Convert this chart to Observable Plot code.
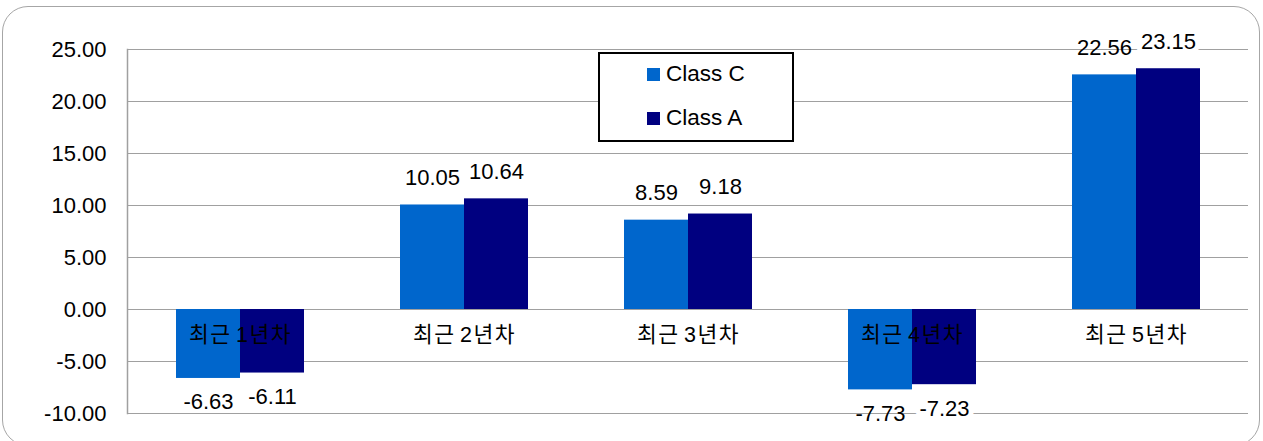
<!DOCTYPE html>
<html><head><meta charset="utf-8">
<script src="https://cdn.jsdelivr.net/npm/d3@7"></script>
<script src="https://cdn.jsdelivr.net/npm/@observablehq/plot@0.6"></script>
<style>
body{margin:0;background:#fff;}
#wrap{position:relative;width:1263px;height:441px;overflow:hidden;font-family:"Liberation Sans",Arial,"Noto Sans CJK KR",sans-serif;}
#frame{position:absolute;left:2px;top:6px;width:1258px;height:440px;border:1.5px solid #a6a6a6;border-radius:26px;box-sizing:border-box;pointer-events:none;}
#chart{position:absolute;left:0;top:0;}
#legend{position:absolute;left:598px;top:52px;width:196px;height:90px;border:2px solid #000;box-sizing:border-box;background:#fff;}
.item{position:absolute;left:47px;height:24px;line-height:24px;font-size:22.5px;color:#000;white-space:nowrap;}
.sw{display:inline-block;width:13px;height:13px;margin-right:6px;vertical-align:0px;}
</style>
</head><body>
<div id="wrap">
  <div id="chart"></div>
  <div id="legend"></div>
  <div id="frame"></div>
</div>
<script>
const categories = ["최근 1년차", "최근 2년차", "최근 3년차", "최근 4년차", "최근 5년차"];
const seriesNames = ["Class C", "Class A"];
const classC = [-6.63, 10.05, 8.59, -7.73, 22.56];
const classA = [-6.11, 10.64, 9.18, -7.23, 23.15];
const yTicks = [-10, -5, 0, 5, 10, 15, 20, 25];
const colors = {"Class C": "#0066CC", "Class A": "#000080"};

const rowsC = categories.map((c, i) => ({cat: c, value: classC[i]}));
const rowsA = categories.map((c, i) => ({cat: c, value: classA[i]}));
const fmt = d => d.value.toFixed(2);
const font = "'Liberation Sans', Arial, 'Noto Sans CJK KR', sans-serif";

const chart = Plot.plot({
  width: 1263, height: 441,
  marginLeft: 127, marginRight: 15, marginTop: 49, marginBottom: 28,
  style: {fontFamily: font, fontSize: "22px", background: "transparent", color: "#000"},
  x: {domain: categories, paddingInner: 0.43, paddingOuter: 0.215, axis: null},
  y: {domain: [-10, 25], ticks: yTicks, tickFormat: d => d.toFixed(2), tickSize: 0, tickPadding: 21, label: null},
  marks: [
    Plot.ruleY(yTicks, {stroke: "#a0a0a0", strokeWidth: 1.2, strokeOpacity: 1}),
    Plot.frame({anchor: "left", stroke: "#a0a0a0", strokeWidth: 1.5}),
    Plot.barY(rowsC, {x: "cat", y: "value", fill: colors["Class C"], insetRight: 64}),
    Plot.barY(rowsA, {x: "cat", y: "value", fill: colors["Class A"], insetLeft: 64}),
    Plot.text(categories, {x: d => d, y: () => 0, dy: 26, fontSize: 21.5, fill: "#000"}),
    Plot.text(rowsC.filter(d => d.value >= 0), {x: "cat", y: "value", text: fmt, dx: -32, dy: -27, fontSize: 22, fill: "#000"}),
    Plot.text(rowsC.filter(d => d.value < 0), {x: "cat", y: "value", text: fmt, dx: -32, dy: 24, fontSize: 22, fill: "#000"}),
    Plot.text(rowsA.filter(d => d.value >= 0), {x: "cat", y: "value", text: fmt, dx: 32, dy: -27, fontSize: 22, fill: "#000", stroke: "#fff", strokeWidth: 10}),
    Plot.text(rowsA.filter(d => d.value < 0), {x: "cat", y: "value", text: fmt, dx: 32, dy: 24, fontSize: 22, fill: "#000", stroke: "#fff", strokeWidth: 10})
  ]
});
d3.select(chart).selectAll("text")
  .filter(function() { return categories.includes(this.textContent); })
  .style("letter-spacing", "1.5px")
  .style("word-spacing", "-3px");
document.getElementById("chart").appendChild(chart);

const legend = document.getElementById("legend");
seriesNames.forEach((name, i) => {
  const item = document.createElement("div");
  item.className = "item";
  item.style.top = (8 + i * 44) + "px";
  const sw = document.createElement("span");
  sw.className = "sw";
  sw.style.background = colors[name];
  item.appendChild(sw);
  item.appendChild(document.createTextNode(name));
  legend.appendChild(item);
});
</script>
</body></html>
